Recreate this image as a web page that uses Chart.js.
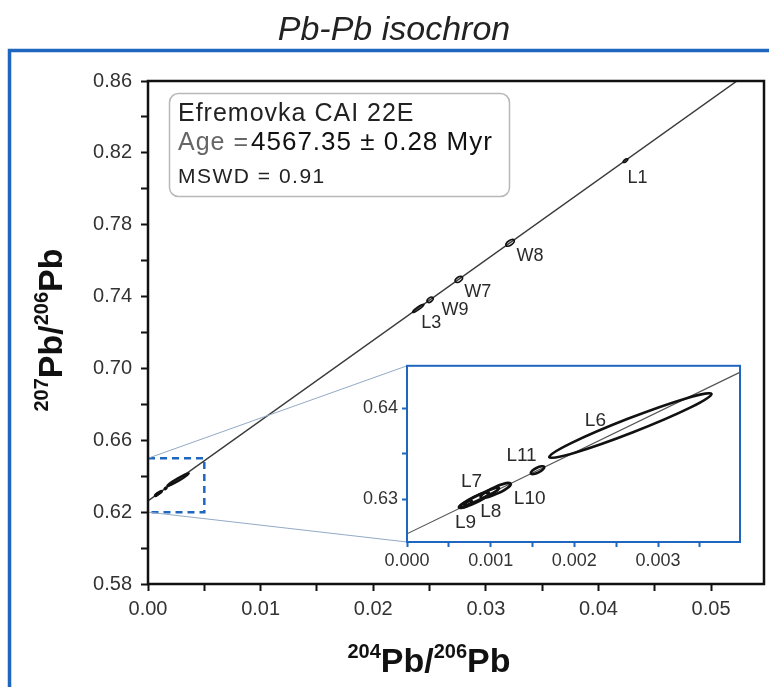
<!DOCTYPE html>
<html>
<head>
<meta charset="utf-8">
<script src="https://cdn.jsdelivr.net/npm/chart.js@4.4.1/dist/chart.umd.min.js"></script>
<style>
  html, body { margin: 0; padding: 0; background: #fff; }
  #wrap { position: relative; width: 769px; height: 687px; overflow: hidden; }
  #main { position: absolute; left: 0; top: 0; }
  #inset { position: absolute; left: 347px; top: 351px; }
</style>
</head>
<body>
<div id="wrap">
  <canvas id="main" width="769" height="687"></canvas>
  <canvas id="inset" width="403" height="230"></canvas>
</div>
<script>
// isochron, read where it meets the y axis and where it leaves the top of the plot
const isoX = [0, 0.0523]
const isoY = [0.6262, 0.86]

// error ellipses: both ends of the long axis + vertical half thickness
const mainNames = ["L1", "W8", "W7", "W9", "L3"]
const mainX1 = [0.0422, 0.0318, 0.0273, 0.0248, 0.0235]
const mainY1 = [0.8148, 0.7683, 0.7482, 0.7371, 0.7312]
const mainX2 = [0.0426, 0.0325, 0.0279, 0.0253, 0.0245]
const mainY2 = [0.8166, 0.7715, 0.7509, 0.7393, 0.7357]
const mainHalf = [0.0008, 0.0016, 0.0016, 0.0014, 0.0009]

const insetNames = ["L6", "L11", "L10", "L7", "L8", "L9"]
const insetX1 = [0.0017, 0.00148, 0.00088, 0.00068, 0.00064, 0.00062]
const insetY1 = [0.63464, 0.63285, 0.63022, 0.6294, 0.62917, 0.6291]
const insetX2 = [0.00364, 0.00164, 0.00124, 0.0011, 0.00098, 0.00078]
const insetY2 = [0.64161, 0.63357, 0.63172, 0.63125, 0.63071, 0.62975]
const insetHalf = [0.00085, 0.0003, 0.00042, 0.00032, 0.00038, 0.00025]

// dashed zoom box on the main plot
const boxX = [0, 0.005]
const boxY = [0.62, 0.65]

const mainXTicks = [0, 0.005, 0.01, 0.015, 0.02, 0.025, 0.03, 0.035, 0.04, 0.045, 0.05]
const mainYTicks = [0.58, 0.60, 0.62, 0.64, 0.66, 0.68, 0.70, 0.72, 0.74, 0.76, 0.78, 0.80, 0.82, 0.84, 0.86]
const insetXTicks = [0, 0.0005, 0.001, 0.0015, 0.002, 0.0025, 0.003, 0.0035]
const insetYTicks = [0.63, 0.635, 0.64]

const legendLines = ["Efremovka CAI 22E", "Age =", "4567.35 ± 0.28 Myr", "MSWD = 0.91"]

// label offsets in pixels from the ellipse centre
const mainLabelOffset = { L1: [12, 17], W8: [20, 13], W7: [19, 13], W9: [25, 10], L3: [13, 15] }
const insetLabelOffset = { L6: [-35, -5], L11: [-16, -14], L10: [34, 8], L7: [-10, -15], L8: [16, 12], L9: [0, 18] }

const FONT = "'Liberation Sans', Arial, Helvetica, sans-serif"
const BLUE = "#1f66bf"

const onStep = (v, base, step) => Math.abs((v - base) / step - Math.round((v - base) / step)) < 1e-6
const pts = (xs, ys) => xs.map((x, i) => ({ x, y: ys[i] }))

function drawEllipses(chart, xs1, ys1, xs2, ys2, half, lw) {
  const { ctx, chartArea: a, scales: { x, y } } = chart
  ctx.save()
  ctx.beginPath()
  ctx.rect(a.left, a.top, a.width, a.height)
  ctx.clip()
  ctx.strokeStyle = "#111"
  ctx.lineWidth = lw
  xs1.forEach((_, i) => {
    const px1 = x.getPixelForValue(xs1[i]), py1 = y.getPixelForValue(ys1[i])
    const px2 = x.getPixelForValue(xs2[i]), py2 = y.getPixelForValue(ys2[i])
    const ang = Math.atan2(py2 - py1, px2 - px1)
    const ra = Math.hypot(px2 - px1, py2 - py1) / 2
    const vh = Math.abs(y.getPixelForValue(ys1[i] + half[i]) - py1)
    const rb = Math.max(0.7, vh * Math.abs(Math.cos(ang)))
    ctx.beginPath()
    ctx.ellipse((px1 + px2) / 2, (py1 + py2) / 2, Math.max(ra, rb), rb, ang, 0, Math.PI * 2)
    ctx.stroke()
  })
  ctx.restore()
}

function drawLabels(chart, names, xs1, ys1, xs2, ys2, offsets, size) {
  const { ctx, scales: { x, y } } = chart
  ctx.save()
  ctx.font = size + "px " + FONT
  ctx.fillStyle = "#2a2a2a"
  ctx.textAlign = "center"
  ctx.textBaseline = "middle"
  names.forEach((n, i) => {
    const cx = (x.getPixelForValue(xs1[i]) + x.getPixelForValue(xs2[i])) / 2
    const cy = (y.getPixelForValue(ys1[i]) + y.getPixelForValue(ys2[i])) / 2
    const o = offsets[n]
    ctx.fillText(n, cx + o[0], cy + o[1])
  })
  ctx.restore()
}

// text like 204Pb/206Pb with raised mass numbers
function drawIsoTitle(ctx, parts, cx, cy, rotate) {
  const big = "bold 34px " + FONT, small = "bold 20px " + FONT
  ctx.save()
  let w = 0
  parts.forEach(p => { ctx.font = p.sup ? small : big; w += ctx.measureText(p.t).width })
  ctx.translate(cx, cy)
  if (rotate) ctx.rotate(-Math.PI / 2)
  ctx.fillStyle = "#111"
  ctx.textBaseline = "alphabetic"
  let x = -w / 2
  parts.forEach(p => {
    ctx.font = p.sup ? small : big
    ctx.fillText(p.t, x, p.sup ? -14 : 0)
    x += ctx.measureText(p.t).width
  })
  ctx.restore()
}

const insetDecor = {
  id: "insetDecor",
  beforeDraw(chart) {
    const { ctx, chartArea: a } = chart
    ctx.save()
    ctx.fillStyle = "#fff"
    ctx.fillRect(a.left, a.top, a.width, a.height)
    ctx.restore()
  },
  afterDraw(chart) {
    const { ctx, chartArea: a } = chart
    drawEllipses(chart, insetX1, insetY1, insetX2, insetY2, insetHalf, 2.6)
    drawLabels(chart, insetNames, insetX1, insetY1, insetX2, insetY2, insetLabelOffset, 19)
    ctx.save()
    ctx.strokeStyle = BLUE
    ctx.lineWidth = 2
    ctx.strokeRect(a.left, a.top, a.width, a.height)
    ctx.restore()
  }
}

const inset = new Chart(document.getElementById("inset"), {
  type: "scatter",
  data: {
    datasets: [{
      data: pts(isoX, isoY),
      showLine: true,
      borderColor: "#555",
      borderWidth: 1.2,
      pointRadius: 0
    }]
  },
  options: {
    responsive: false,
    animation: false,
    events: [],
    layout: { padding: { top: 10, right: 10, left: 0, bottom: 0 } },
    plugins: { legend: { display: false }, tooltip: { enabled: false } },
    scales: {
      x: {
        min: 0,
        max: 0.00398,
        afterBuildTicks: s => { s.ticks = insetXTicks.map(v => ({ value: v })) },
        afterFit: s => { s.height = 39 },
        ticks: {
          autoSkip: false, maxRotation: 0, padding: 3,
          color: "#333", font: { family: FONT, size: 18 },
          callback: v => onStep(v, 0, 0.001) ? v.toFixed(3) : ""
        },
        grid: { drawOnChartArea: false, tickLength: 5, tickWidth: 2, tickColor: BLUE },
        border: { display: false }
      },
      y: {
        min: 0.6253,
        max: 0.6447,
        afterBuildTicks: s => { s.ticks = insetYTicks.map(v => ({ value: v })) },
        afterFit: s => { s.width = 60 },
        ticks: {
          autoSkip: false, padding: 4,
          color: "#333", font: { family: FONT, size: 18 },
          callback: v => onStep(v, 0, 0.01) ? v.toFixed(2) : ""
        },
        grid: { drawOnChartArea: false, tickLength: 5, tickWidth: 2, tickColor: BLUE },
        border: { display: false }
      }
    }
  },
  plugins: [insetDecor]
})

const mainDecor = {
  id: "mainDecor",
  beforeDraw(chart) {
    const { ctx } = chart
    ctx.save()
    ctx.fillStyle = "#fff"
    ctx.fillRect(0, 0, chart.width, chart.height)
    // blue frame around the figure
    ctx.strokeStyle = BLUE
    ctx.lineWidth = 3.5
    ctx.beginPath()
    ctx.moveTo(9.5, chart.height + 5)
    ctx.lineTo(9.5, 50.5)
    ctx.lineTo(chart.width + 5, 50.5)
    ctx.stroke()
    // title
    ctx.font = "italic 34px " + FONT
    ctx.fillStyle = "#222"
    ctx.textAlign = "center"
    ctx.fillText("Pb-Pb isochron", 394, 40)
    ctx.restore()
  },
  afterDraw(chart) {
    const { ctx, chartArea: a, scales: { x, y } } = chart
    ctx.save()
    // connectors from the zoom box to the inset
    const ia = inset.chartArea
    const ox = inset.canvas.offsetLeft, oy = inset.canvas.offsetTop
    ctx.strokeStyle = "#93aac6"
    ctx.lineWidth = 1
    ctx.beginPath()
    ctx.moveTo(x.getPixelForValue(boxX[0]), y.getPixelForValue(boxY[1]))
    ctx.lineTo(ox + ia.left, oy + ia.top)
    ctx.moveTo(x.getPixelForValue(boxX[0]), y.getPixelForValue(boxY[0]))
    ctx.lineTo(ox + ia.left, oy + ia.bottom)
    ctx.stroke()
    // plot frame
    ctx.strokeStyle = "#111"
    ctx.lineWidth = 2.5
    ctx.strokeRect(a.left, a.top, a.width, a.height)
    ctx.restore()

    drawEllipses(chart, insetX1, insetY1, insetX2, insetY2, insetHalf, 2.2)
    drawEllipses(chart, mainX1, mainY1, mainX2, mainY2, mainHalf, 1.6)
    drawLabels(chart, mainNames, mainX1, mainY1, mainX2, mainY2, mainLabelOffset, 18)

    // result box
    ctx.save()
    ctx.strokeStyle = "#b8b8b8"
    ctx.lineWidth = 1.5
    ctx.beginPath()
    ctx.roundRect(169.5, 93.5, 340, 103, 9)
    ctx.stroke()
    ctx.textBaseline = "alphabetic"
    ctx.letterSpacing = "1px"
    ctx.font = "25px " + FONT
    ctx.fillStyle = "#222"
    ctx.fillText(legendLines[0], 178, 121)
    ctx.fillStyle = "#666"
    ctx.fillText(legendLines[1], 178, 150)
    const w = ctx.measureText(legendLines[1]).width
    ctx.fillStyle = "#111"
    ctx.font = "26px " + FONT
    ctx.fillText(legendLines[2], 178 + w + 2, 150)
    ctx.letterSpacing = "1.5px"
    ctx.font = "21px " + FONT
    ctx.fillStyle = "#222"
    ctx.fillText(legendLines[3], 178, 183)
    ctx.letterSpacing = "0px"
    ctx.restore()

    drawIsoTitle(ctx, [{ t: "204", sup: true }, { t: "Pb/" }, { t: "206", sup: true }, { t: "Pb" }], 429, 672, false)
    drawIsoTitle(ctx, [{ t: "207", sup: true }, { t: "Pb/" }, { t: "206", sup: true }, { t: "Pb" }], 62, 330, true)
  }
}

new Chart(document.getElementById("main"), {
  type: "scatter",
  data: {
    datasets: [{
      data: pts(isoX, isoY),
      showLine: true,
      borderColor: "#3a3a3a",
      borderWidth: 1.5,
      pointRadius: 0
    }, {
      data: [
        { x: boxX[0], y: boxY[1] }, { x: boxX[1], y: boxY[1] },
        { x: boxX[1], y: boxY[0] }, { x: boxX[0], y: boxY[0] }
      ],
      showLine: true,
      borderColor: BLUE,
      borderWidth: 2.5,
      borderDash: [7, 5],
      pointRadius: 0
    }]
  },
  options: {
    responsive: false,
    animation: false,
    events: [],
    layout: { padding: { top: 81, right: 5, left: 0, bottom: 0 } },
    plugins: { legend: { display: false }, tooltip: { enabled: false } },
    scales: {
      x: {
        min: 0,
        max: 0.0547,
        afterBuildTicks: s => { s.ticks = mainXTicks.map(v => ({ value: v })) },
        afterFit: s => { s.height = 103 },
        ticks: {
          autoSkip: false, maxRotation: 0, padding: 6,
          color: "#333", font: { family: FONT, size: 20 },
          callback: v => onStep(v, 0, 0.01) ? v.toFixed(2) : ""
        },
        grid: { drawOnChartArea: false, tickLength: 7, tickWidth: 2, tickColor: "#111" },
        border: { display: false }
      },
      y: {
        min: 0.58,
        max: 0.86,
        afterBuildTicks: s => { s.ticks = mainYTicks.map(v => ({ value: v })) },
        afterFit: s => { s.width = 148 },
        ticks: {
          autoSkip: false, padding: 9,
          color: "#333", font: { family: FONT, size: 20 },
          callback: v => onStep(v, 0.58, 0.04) ? v.toFixed(2) : ""
        },
        grid: { drawOnChartArea: false, tickLength: 7, tickWidth: 2, tickColor: "#111" },
        border: { display: false }
      }
    }
  },
  plugins: [mainDecor]
})
</script>
</body>
</html>
